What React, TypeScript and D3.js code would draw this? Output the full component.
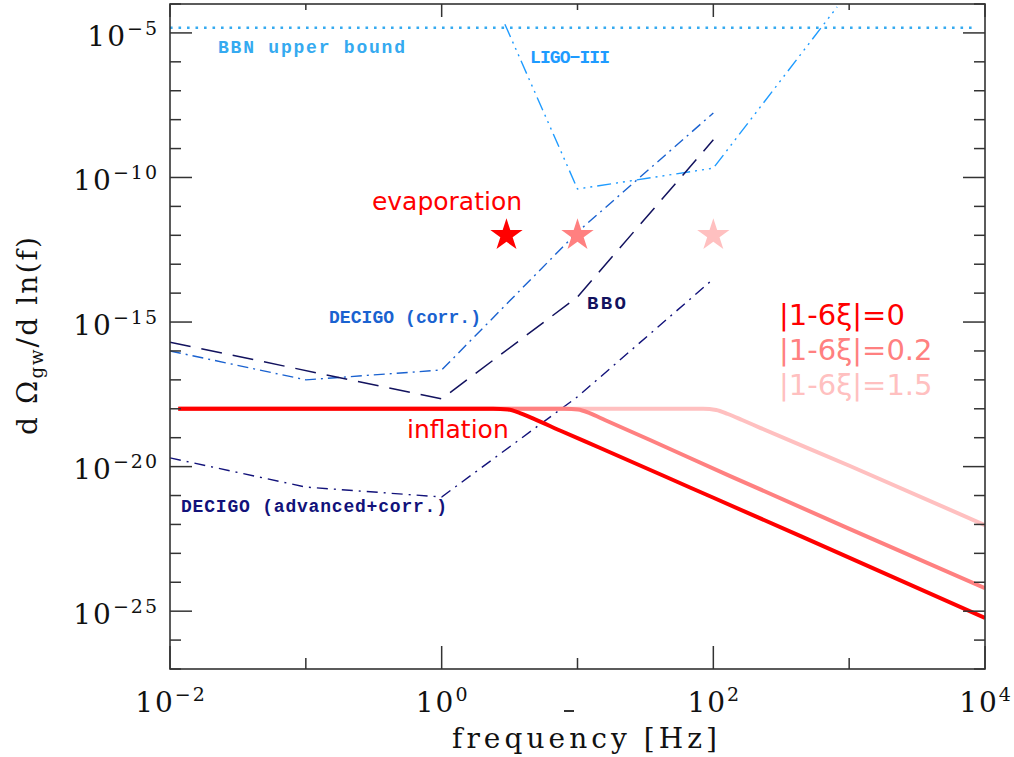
import React from 'react';
import * as d3 from 'd3';

const W = 1014, H = 757;
const PL = 170, PR = 985, PT = 4, PB = 669;

// axis ticks
const xTickExps = [-2, -1, 0, 1, 2, 3, 4];
const xLabelExps = [-2, 0, 2, 4];
const yTickExps = d3.range(-27, -3);
const yLabelExps = [-25, -20, -15, -10, -5];

// BBN upper bound
const bbnF = [0.01, 8050];
const bbnOmega = [1.5e-5, 1.5e-5];

// LIGO-III
const ligoF = [2.92, 10, 100, 815];
const ligoOmega = [2.0e-5, 4.0e-11, 2.1e-10, 7.9e-5];

// DECIGO (corr.)
const decigoF = [0.01, 0.1, 1, 10, 100];
const decigoOmega = [1e-16, 1e-17, 2.2e-17, 1.3e-12, 1.7e-8];

// BBO
const bboF = [0.01, 1, 10, 100];
const bboOmega = [2.0e-16, 2.2e-18, 7.4e-15, 2.0e-9];

// DECIGO (advanced+corr.)
const decigoAdvF = [0.01, 0.1, 1, 10, 100];
const decigoAdvOmega = [2.0e-20, 1.96e-21, 8.9e-22, 2.6e-18, 3.1e-14];

// inflation spectra
const infl0F = [0.0115, 2.39, 3.08, 3.77, 4.87, 7.43, 14.7, 67.3, 435, 1e4];
const infl0Omega = [1e-18, 1e-18, 9.4e-19, 7.1e-19, 4.3e-19, 1.77e-19, 4.4e-20, 1.9e-21, 4.0e-23, 5.8e-26];
const infl02F = [0.0115, 8.09, 10.1, 12.4, 15.9, 34.2, 133, 1014, 1e4];
const infl02Omega = [1e-18, 1e-18, 9.4e-19, 6.9e-19, 4.1e-19, 8.3e-20, 4.7e-21, 6.9e-23, 6.3e-25];
const infl15F = [0.0115, 84, 105, 128, 163, 221, 1014, 1e4];
const infl15Omega = [1e-18, 1e-18, 9.1e-19, 6.6e-19, 4.1e-19, 2.2e-19, 1.05e-20, 9.5e-23];

// evaporation stars
const starF = [3, 10, 100];
const starOmega = [1e-12, 1e-12, 1e-12];

const legendLabels = ['|1-6ξ|=0', '|1-6ξ|=0.2', '|1-6ξ|=1.5'];
const seriesColors = ['#ff0000', '#ff8080', '#ffc0c0'];

const x = d3.scaleLog().domain([1e-2, 1e4]).range([PL, PR]);
const y = d3.scaleLog().domain([1e-27, 1e-4]).range([PB, PT]);

const zip = (f: number[], o: number[]) => f.map((v, i) => [v, o[i]] as [number, number]);
const lin = d3.line<[number, number]>().x(d => x(d[0])).y(d => y(d[1]));
const smooth = d3.line<[number, number]>().x(d => x(d[0])).y(d => y(d[1])).curve(d3.curveMonotoneX);

const serif = '"DejaVu Serif", serif';
const mono = '"Liberation Mono", monospace';
const sans = '"DejaVu Sans", sans-serif';
const axisColor = '#333';

export default function App() {
  const starPath = d3.symbol().type(d3.symbolStar).size(324)() as string;
  const inflSeries = [
    { f: infl15F, o: infl15Omega, c: seriesColors[2] },
    { f: infl02F, o: infl02Omega, c: seriesColors[1] },
    { f: infl0F, o: infl0Omega, c: seriesColors[0] },
  ];
  return (
    <svg width={W} height={H} style={{ position: 'absolute', left: 0, top: 0, background: '#fff' }}>
      <defs>
        <clipPath id="plot">
          <rect x={PL} y={PT} width={PR - PL} height={PB - PT} />
        </clipPath>
      </defs>
      <rect x={0} y={0} width={W} height={H} fill="#fff" />
      <g clipPath="url(#plot)" fill="none">
        <path d={lin(zip(bbnF, bbnOmega)) as string} stroke="#35aaf0" strokeWidth={2.6} strokeDasharray="2.6 5.9" />
        <path d={lin(zip(ligoF, ligoOmega)) as string} stroke="#1e9bff" strokeWidth={1.4} strokeDasharray="14 5 2 5 2 5 2 5" />
        <path d={lin(zip(decigoF, decigoOmega)) as string} stroke="#1a62d0" strokeWidth={1.4} strokeDasharray="11 5 2 5" />
        <path d={lin(zip(bboF, bboOmega)) as string} stroke="#12125e" strokeWidth={1.5} strokeDasharray="21 11" />
        <path d={lin(zip(decigoAdvF, decigoAdvOmega)) as string} stroke="#12127a" strokeWidth={1.4} strokeDasharray="11 6 2 6" />
        {inflSeries.map((s, i) => (
          <path key={i} d={smooth(zip(s.f, s.o)) as string} stroke={s.c} strokeWidth={4} />
        ))}
        {starF.map((f, i) => (
          <path key={i} d={starPath} transform={`translate(${x(f)},${y(starOmega[i])})`} fill={seriesColors[i]} />
        ))}
      </g>

      {/* frame */}
      <rect x={PL} y={PT} width={PR - PL} height={PB - PT} fill="none" stroke={axisColor} strokeWidth={1.6} />
      {/* y ticks */}
      {yTickExps.map(e => {
        const yy = y(Math.pow(10, e));
        const len = e % 5 === 0 ? 22 : 11;
        return (
          <g key={e} stroke={axisColor} strokeWidth={1.5}>
            <line x1={PL} x2={PL + len} y1={yy} y2={yy} />
            <line x1={PR} x2={PR - len} y1={yy} y2={yy} />
          </g>
        );
      })}
      {/* x ticks */}
      {xTickExps.map(e => {
        const xx = x(Math.pow(10, e));
        const major = e % 2 === 0;
        return (
          <g key={e} stroke={axisColor} strokeWidth={1.5}>
            <line x1={xx} x2={xx} y1={PB} y2={PB - (major ? 23 : 11)} />
            <line x1={xx} x2={xx} y1={PT} y2={PT + (major ? 13 : 6)} />
          </g>
        );
      })}
      {/* y labels */}
      {yLabelExps.map(e => (
        <text key={e} x={159} y={y(Math.pow(10, e)) + 12.7} textAnchor="end" fontFamily={serif} fontSize={28} letterSpacing={2} fill="#111">
          10<tspan dy={-11} fontSize={19}>{'−' + Math.abs(e)}</tspan>
        </text>
      ))}
      {/* x labels */}
      {xLabelExps.map(e => (
        <text key={e} x={x(Math.pow(10, e)) + 1} y={712} textAnchor="middle" fontFamily={serif} fontSize={28} letterSpacing={2} fill="#111">
          10<tspan dy={-11} fontSize={19}>{(e < 0 ? '−' : '') + Math.abs(e)}</tspan>
        </text>
      ))}
      <line x1={564} x2={574} y1={711} y2={711} stroke={axisColor} strokeWidth={2} />
      <text x={584.5} y={748} textAnchor="middle" fontFamily={serif} fontSize={28} fill="#111" textLength={265} lengthAdjust="spacing">
        frequency [Hz]
      </text>
      <text transform="translate(37,336) rotate(-90)" textAnchor="middle" fontFamily={serif} fontSize={28} fill="#111" textLength={198} lengthAdjust="spacing">
        d Ω<tspan dy={6} fontSize={18}>gw</tspan><tspan dy={-6}>/d ln(f)</tspan>
      </text>

      {/* curve labels */}
      <g fontFamily={mono} fontSize={18} fontWeight="bold">
        <text x={218} y={53} fill="#35aaf0" textLength={187} lengthAdjust="spacing">BBN upper bound</text>
        <text x={530} y={63} fill="#1e9bff" textLength={80} lengthAdjust="spacing">LIGO−III</text>
        <text x={329} y={323} fill="#1a62d0" textLength={152} lengthAdjust="spacing">DECIGO (corr.)</text>
        <text x={587} y={309} fill="#12125e" fontSize={19} textLength={39} lengthAdjust="spacing">BBO</text>
        <text x={181} y={512} fill="#12127a" textLength={266} lengthAdjust="spacing">DECIGO (advanced+corr.)</text>
      </g>

      <text x={447} y={210} textAnchor="middle" fontFamily={sans} fontSize={25} fill="#ff0000">evaporation</text>
      <text x={407} y={438} fontFamily={sans} fontSize={25} fill="#ff0000">inflation</text>

      {legendLabels.map((t, i) => (
        <text key={t} x={779} y={325 + i * 35} fontFamily={sans} fontSize={29} fill={seriesColors[i]}>{t}</text>
      ))}
    </svg>
  );
}
